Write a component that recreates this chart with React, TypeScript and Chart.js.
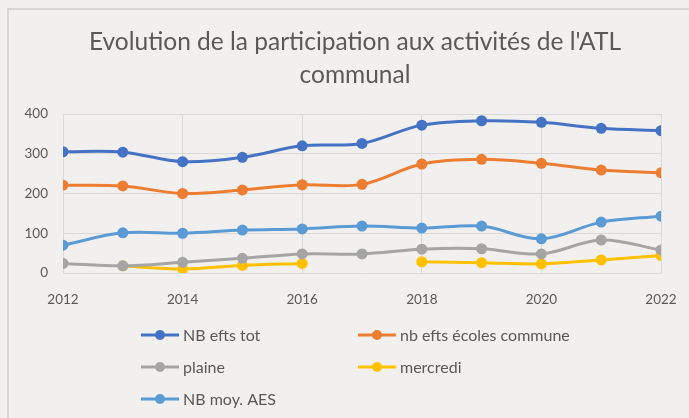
import React, { useEffect, useRef } from "react";
import { Chart, registerables } from "chart.js";

Chart.register(...registerables);

const years = [2012, 2013, 2014, 2015, 2016, 2017, 2018, 2019, 2020, 2021, 2022];
const nbEftsTot = [305, 304, 280, 291, 320, 326, 372, 383, 379, 364, 358];
const nbEftsEcoles = [221, 219, 200, 209, 222, 223, 274, 286, 276, 259, 252];
const plaine = [24, 18, 27, 37, 48, 48, 60, 61, 48, 83, 58];
const mercredi = [null, 18, 10, 19, 24, null, 28, 26, 23, 33, 44];
const nbMoyAES = [70, 101, 100, 108, 111, 118, 113, 118, 86, 128, 143];

const seriesLabels = ["NB efts tot", "nb efts écoles commune", "plaine", "mercredi", "NB moy. AES"];
const seriesColors = ["#4472C4", "#ED7D31", "#A5A5A5", "#FFC000", "#5B9BD5"];
const titleLines = ["Evolution de la participation aux activités de l'ATL", "communal"];
const yTicks = [0, 100, 200, 300, 400];

const TEXT = "#595959";
const FONT = "Lato, 'Open Sans', sans-serif";

const overlayPlugin = {
  id: "overlay",
  afterDraw(chart: any) {
    const ctx = chart.ctx;
    ctx.save();
    // Title
    ctx.fillStyle = TEXT;
    ctx.font = `24.5px ${FONT}`;
    ctx.textAlign = "center";
    ctx.textBaseline = "middle";
    ctx.fillText(titleLines[0], 355, 42);
    ctx.fillText(titleLines[1], 355, 75);
    // Legend
    const cols = [141, 358];
    const rows = [335, 367, 399];
    ctx.font = `16px ${FONT}`;
    ctx.textAlign = "left";
    chart.data.datasets.forEach((ds: any, i: number) => {
      const x = cols[i % 2];
      const y = rows[Math.floor(i / 2)];
      ctx.strokeStyle = ds.borderColor;
      ctx.lineWidth = 3;
      ctx.beginPath();
      ctx.moveTo(x, y);
      ctx.lineTo(x + 38, y);
      ctx.stroke();
      ctx.fillStyle = ds.borderColor;
      ctx.beginPath();
      ctx.arc(x + 19, y, 5, 0, Math.PI * 2);
      ctx.fill();
      ctx.fillStyle = TEXT;
      ctx.fillText(ds.label, x + 42, y + 1);
    });
    ctx.restore();
  },
};

export default function App() {
  const ref = useRef<HTMLCanvasElement>(null);
  useEffect(() => {
    document.body.style.margin = "0";
    document.body.style.background = "#f1f0ee";
    const all = [nbEftsTot, nbEftsEcoles, plaine, mercredi, nbMoyAES];
    const chart = new Chart(ref.current!, {
      type: "line",
      data: {
        datasets: all.map((arr, i) => ({
          label: seriesLabels[i],
          data: years.map((yr, j) => ({ x: yr, y: arr[j] })),
          borderColor: seriesColors[i],
          backgroundColor: seriesColors[i],
          borderWidth: 3,
          pointRadius: 5.5,
          pointHoverRadius: 5.5,
          pointBorderWidth: 0,
          tension: 0.35,
          spanGaps: false,
        })),
      },
      options: {
        animation: false,
        responsive: false,
        layout: { padding: { left: 22, right: 28, top: 114, bottom: 105 } },
        plugins: { legend: { display: false }, title: { display: false }, tooltip: { enabled: false } },
        scales: {
          x: {
            type: "linear",
            min: 2012,
            max: 2022,
            afterFit: (s: any) => {
              s.height = 40;
              s.paddingLeft = 0;
              s.paddingRight = 0;
            },
            ticks: {
              stepSize: 2,
              padding: 19,
              color: TEXT,
              font: { family: FONT, size: 13.5 },
              callback: (v: any) => String(v),
            },
            grid: { color: "#d9d9d9", drawTicks: false, lineWidth: 1 },
            border: { color: "#d9d9d9" },
          },
          y: {
            min: 0,
            max: 400,
            afterFit: (s: any) => { s.width = 41; },
            afterBuildTicks: (s: any) => { s.ticks = yTicks.map((v) => ({ value: v })); },
            ticks: {
              padding: 15,
              color: TEXT,
              font: { family: FONT, size: 13.5 },
            },
            grid: { color: "#d9d9d9", drawTicks: false, lineWidth: 1 },
            border: { color: "#d9d9d9" },
          },
        },
      },
      plugins: [overlayPlugin],
    } as any);
    return () => chart.destroy();
  }, []);
  return (
    <div style={{ position: "relative", width: 689, height: 418, overflow: "hidden", background: "#f1f0ee" }}>
      <canvas ref={ref} width={689} height={418} style={{ display: "block" }} />
      <div
        style={{
          position: "absolute",
          left: 7,
          top: 8,
          width: 700,
          height: 420,
          borderLeft: "2px solid #d6d6d4",
          borderTop: "2px solid #d6d6d4",
          pointerEvents: "none",
        }}
      />
    </div>
  );
}
